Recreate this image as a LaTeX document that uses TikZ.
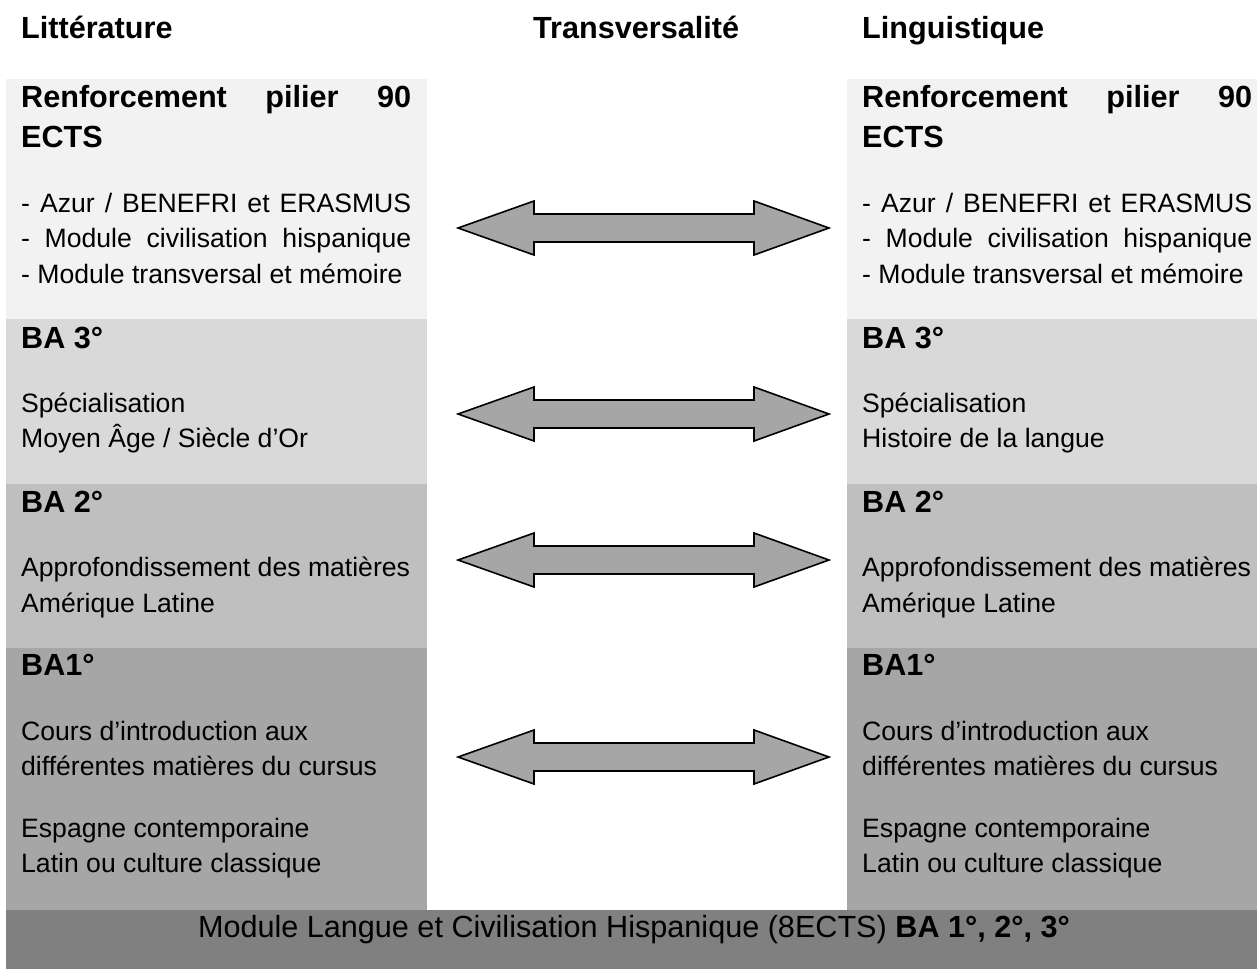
\documentclass[tikz,border=0pt]{standalone}
\usepackage{fontspec}
\setmainfont{Liberation Sans}
\definecolor{pillar}{HTML}{F2F2F2}
\definecolor{yearC}{HTML}{D9D9D9}
\definecolor{yearB}{HTML}{BFBFBF}
\definecolor{yearA}{HTML}{A6A6A6}
\definecolor{basebar}{HTML}{808080}
\begin{document}
\begin{tikzpicture}[x=1pt,y=-1pt, line join=miter,
	head/.style={anchor=base west,inner sep=0pt,font=\fontsize{30.6}{36}\selectfont\bfseries},
	txt/.style={anchor=base west,inner sep=0pt,font=\fontsize{26.6}{36}\selectfont},
	twoway/.style={draw=black,line width=1.6pt,fill=yearA}]
	\useasboundingbox (0,0) rectangle (1257,969);
	\def\colw{390pt} % largeur du texte
	% blocs
	\foreach \a/\b in {6/427,847/1257}
	\foreach \c/\t/\u in {pillar/79/319,yearC/319/484,yearB/484/648,yearA/648/910}
	\fill[\c] (\a,\t) rectangle (\b,\u);
	\fill[basebar] (6,910) rectangle (1257,969);
	% titres
	\node[head] (litt) at (21,38) {Littérature};
	\node[head] (trans) at (533,38) {Transversalité};
	\node[head] (ling) at (862,38) {Linguistique};
	\foreach \x/\s in {21/L,862/R} {
	\node[head] (pilier\s) at (\x,107) {\makebox[\colw][s]{Renforcement pilier 90}};
	\node[head] (ects\s) at (\x,147) {ECTS};
	\node[txt] (azur\s) at (\x,212) {\makebox[\colw][s]{- Azur / BENEFRI et ERASMUS}};
	\node[txt] (civ\s) at (\x,247) {\makebox[\colw][s]{-  Module civilisation hispanique}};
	\node[txt] (mem\s) at (\x,283) {- Module transversal et mémoire};
	\node[head] (baC\s) at (\x,348) {BA 3°};
	\node[txt] (spec\s) at (\x,412) {Spécialisation};
	\node[head] (baB\s) at (\x,512) {BA 2°};
	\node[txt] (appro\s) at (\x,576) {Approfondissement des matières};
	\node[txt] (amer\s) at (\x,612) {Amérique Latine};
	\node[head] (baA\s) at (\x,675) {BA1°};
	\node[txt] (cours\s) at (\x,740) {Cours d’introduction aux};
	\node[txt] (diff\s) at (\x,775) {différentes matières du cursus};
	\node[txt] (esp\s) at (\x,837) {Espagne contemporaine};
	\node[txt] (lat\s) at (\x,872) {Latin ou culture classique};
	}
	\node[txt] (moyen) at (21,447) {Moyen Âge / Siècle d’Or};
	\node[txt] (hist) at (862,447) {Histoire de la langue};
	\node[anchor=base,inner sep=0pt,font=\fontsize{30.6}{36}\selectfont] (module) at (634,937)
	{Module Langue et Civilisation Hispanique (8ECTS) \textbf{BA 1°, 2°, 3°}};
	% flèches
	\foreach \y in {228,414,560,757}
	\draw[twoway] (458,\y) -- (534,{\y-27}) -- (534,{\y-14}) -- (754,{\y-14}) -- (754,{\y-27})
	-- (829,\y) -- (754,{\y+27}) -- (754,{\y+14}) -- (534,{\y+14}) -- (534,{\y+27}) -- cycle;
\end{tikzpicture}
\end{document}
